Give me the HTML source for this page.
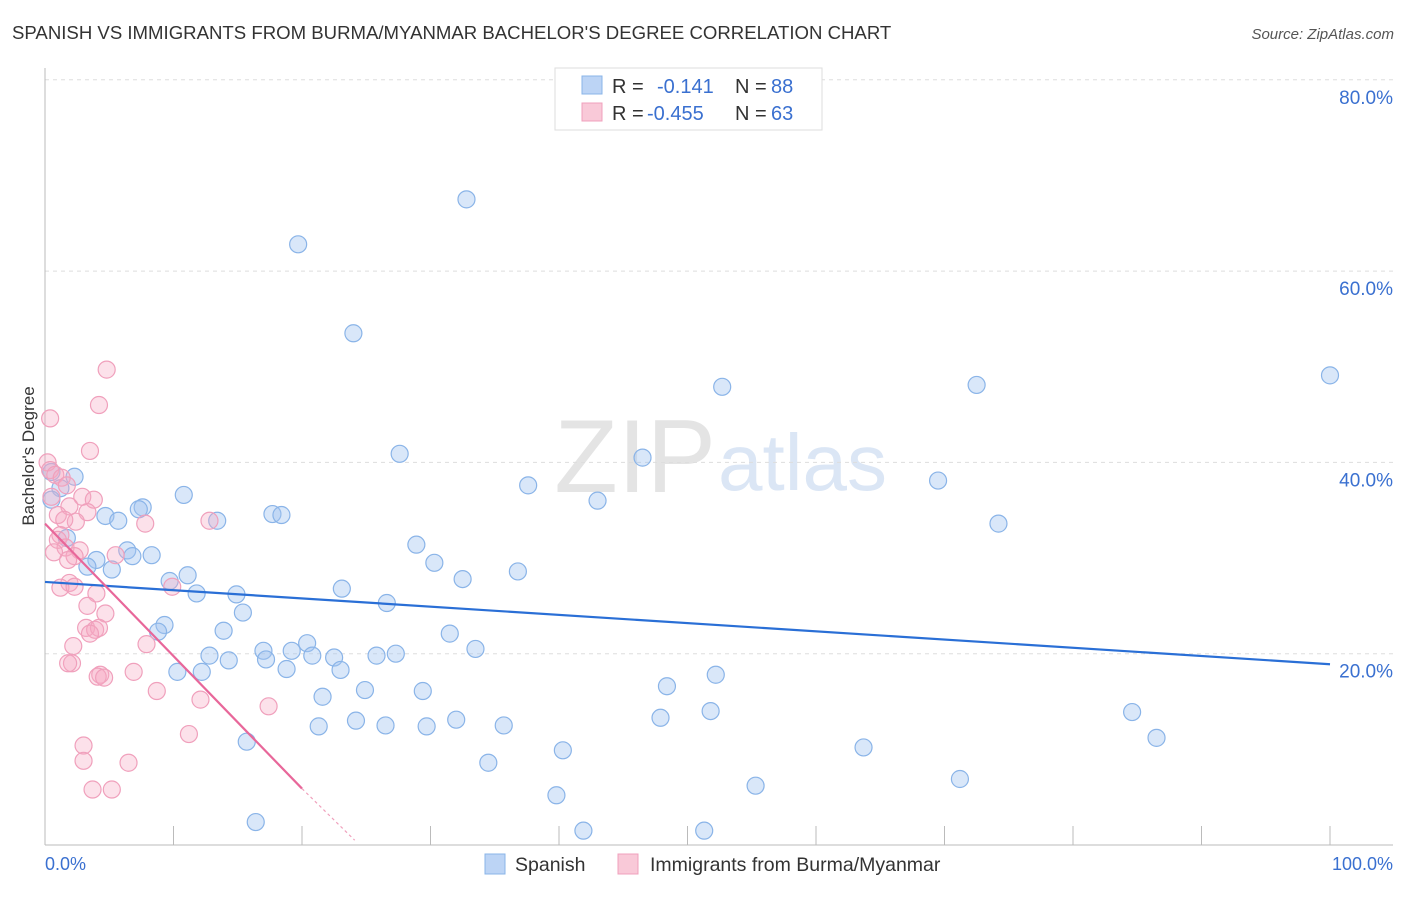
<!DOCTYPE html>
<html><head><meta charset="utf-8"><style>
body{margin:0;background:#fff;font-family:"Liberation Sans",sans-serif}
svg text{font-family:"Liberation Sans",sans-serif}
</style></head><body>
<svg id="chart" width="1406" height="892" xmlns="http://www.w3.org/2000/svg">
<text x="12" y="39" font-size="18.6" fill="#333">SPANISH VS IMMIGRANTS FROM BURMA/MYANMAR BACHELOR'S DEGREE CORRELATION CHART</text>
<text x="1394" y="39" font-size="15" fill="#555" text-anchor="end" font-style="italic">Source: ZipAtlas.com</text>
<text x="716" y="492" font-size="104" fill="#e4e4e4" text-anchor="end" font-family="Liberation Serif">ZIP</text>
<text x="718" y="490" font-size="80" fill="#dbe6f5">atlas</text>
<g id="grid"></g>
<g id="axes"></g>
<g id="pts"></g>
<g id="trends"></g>
<text transform="translate(34,456) rotate(-90)" font-size="17" fill="#333" text-anchor="middle">Bachelor's Degree</text>
<g>
<rect x="555" y="68" width="267" height="62" fill="#fff" stroke="#ddd"/>
<rect x="582" y="76" width="20" height="18" fill="#bcd4f5" stroke="#8ab4e8"/>
<rect x="582" y="103" width="20" height="18" fill="#f9c9d8" stroke="#f0a0bc"/>
<text x="612" y="93" font-size="20" fill="#333">R = </text><text x="657" y="93" font-size="20" fill="#3a70d0">-0.141</text>
<text x="735" y="93" font-size="20" fill="#333">N = </text><text x="771" y="93" font-size="20" fill="#3a70d0">88</text>
<text x="612" y="120" font-size="20" fill="#333">R = </text><text x="647" y="120" font-size="20" fill="#3a70d0">-0.455</text>
<text x="735" y="120" font-size="20" fill="#333">N = </text><text x="771" y="120" font-size="20" fill="#3a70d0">63</text>
</g>
<g>
<rect x="485" y="854" width="20" height="20" fill="#bcd4f5" stroke="#8ab4e8"/>
<text x="515" y="871" font-size="19.5" fill="#333">Spanish</text>
<rect x="618" y="854" width="20" height="20" fill="#f9c9d8" stroke="#f0a0bc"/>
<text x="650" y="871" font-size="19.5" fill="#333">Immigrants from Burma/Myanmar</text>
</g>
<text x="45" y="870" font-size="18" fill="#3a70d0">0.0%</text>
<text x="1393" y="870" font-size="18" fill="#3a70d0" text-anchor="end">100.0%</text>
</svg>
<script>
const yTicks=[20,40,60,80];
const xTicks=[0,10,20,30,40,50,60,70,80,90,100];
const blueX=[32.8,19.7,24.0,100,52.7,72.5,27.6,46.5,69.5,37.6,43.0,74.2,0.5,2.3,1.2,0.5,7.6,7.3,10.8,4.7,5.7,13.4,17.7,18.4,1.7,6.4,8.3,6.8,4.0,3.3,5.2,28.9,30.3,32.5,36.8,9.7,11.1,11.8,14.9,15.4,23.1,26.6,9.3,8.8,13.9,31.5,33.5,17.0,17.2,20.4,19.2,20.8,22.5,25.8,27.3,12.8,14.3,18.8,23.0,10.3,12.2,48.4,52.2,21.6,24.9,29.4,47.9,51.8,84.6,21.3,24.2,26.5,29.7,32.0,35.7,86.5,15.7,40.3,63.7,34.5,71.2,55.3,39.8,16.4,41.9,51.3];
const blueY=[67.5,62.8,53.5,49.1,47.9,48.1,40.9,40.5,38.1,37.6,36.0,33.6,39.0,38.5,37.3,36.1,35.3,35.1,36.6,34.4,33.9,33.9,34.6,34.5,32.1,30.8,30.3,30.2,29.8,29.1,28.8,31.4,29.5,27.8,28.6,27.6,28.2,26.3,26.2,24.3,26.8,25.3,23.0,22.3,22.4,22.1,20.5,20.3,19.4,21.1,20.3,19.8,19.6,19.8,20.0,19.8,19.3,18.4,18.3,18.1,18.1,16.6,17.8,15.5,16.2,16.1,13.3,14.0,13.9,12.4,13.0,12.5,12.4,13.1,12.5,11.2,10.8,9.9,10.2,8.6,6.9,6.2,5.2,2.4,1.5,1.5];
const pinkX=[0.4,4.8,4.2,3.5,0.2,0.4,0.8,1.3,1.7,0.5,2.9,3.8,1.9,1.0,3.3,2.4,1.5,1.2,1.0,1.6,2.7,0.7,2.3,1.8,5.5,7.8,12.8,1.9,1.2,2.3,4.0,9.9,3.3,4.7,3.2,3.9,4.2,3.5,7.9,2.2,2.1,1.8,4.3,6.9,4.1,4.6,8.7,12.1,17.4,11.2,3.0,3.0,6.5,3.7,5.2];
const pinkY=[44.6,49.7,46.0,41.2,40.0,39.2,38.7,38.4,37.6,36.4,36.4,36.1,35.4,34.5,34.8,33.8,34.0,32.4,31.9,31.1,30.8,30.6,30.2,29.8,30.3,33.6,33.9,27.4,26.9,27.0,26.3,27.0,25.0,24.2,22.7,22.5,22.7,22.1,21.0,20.8,19.0,19.0,17.8,18.1,17.6,17.5,16.1,15.2,14.5,11.6,10.4,8.8,8.6,5.8,5.8];
const blueTrend=[27.5,18.9];
const pinkTrend=[33.6,5.9,0.5];
const pinkTrendX=[0,20.0,24.1];
const X=v=>45+v*12.85, Y=v=>845-v*9.565;
const NS="http://www.w3.org/2000/svg";
function mk(tag,attrs,parent){const e=document.createElementNS(NS,tag);for(const k in attrs)e.setAttribute(k,attrs[k]);document.getElementById(parent).appendChild(e);return e;}
yTicks.forEach(t=>{
 const l=mk('line',{x1:45,x2:1393,y1:Y(t),y2:Y(t),stroke:'#ddd','stroke-dasharray':'4,4'},'grid');
 
 
 const tx=mk('text',{x:1393,y:Y(t)+24,'font-size':19,fill:'#3a70d0','text-anchor':'end'},'grid');
 tx.textContent=t.toFixed(1)+'%';
 
 
});
const ax=mk('line',{x1:45,x2:45,y1:68,y2:845,stroke:'#bbb'},'axes');


const bx=mk('line',{x1:45,x2:1393,y1:845,y2:845,stroke:'#bbb'},'axes');


xTicks.forEach(t=>{
 const l=mk('line',{x1:X(t),x2:X(t),y1:826,y2:845,stroke:'#bbb'},'axes');
 
 
});
blueX.forEach((v,i)=>{
 const c=mk('circle',{cx:X(v),cy:Y(blueY[i]),r:8.5,fill:'rgba(160,195,240,0.4)',stroke:'#8ab4e8','stroke-width':1.2},'pts');
 
 
});
pinkX.forEach((v,i)=>{
 const c=mk('circle',{cx:X(v),cy:Y(pinkY[i]),r:8.5,fill:'rgba(245,170,195,0.35)',stroke:'#f0a0bc','stroke-width':1.2},'pts');
 
 
});
const bt=mk('line',{x1:X(0),y1:Y(blueTrend[0]),x2:X(100),y2:Y(blueTrend[1]),stroke:'#2a6fd6','stroke-width':2.2},'trends');


const pt=mk('line',{x1:X(pinkTrendX[0]),y1:Y(pinkTrend[0]),x2:X(pinkTrendX[1]),y2:Y(pinkTrend[1]),stroke:'#e8679a','stroke-width':2.2},'trends');


const pd=mk('line',{x1:X(pinkTrendX[1]),y1:Y(pinkTrend[1]),x2:X(pinkTrendX[2]),y2:Y(pinkTrend[2]),stroke:'#f0a0bc','stroke-width':1.2,'stroke-dasharray':'3,3'},'trends');


</script>
</body></html>
